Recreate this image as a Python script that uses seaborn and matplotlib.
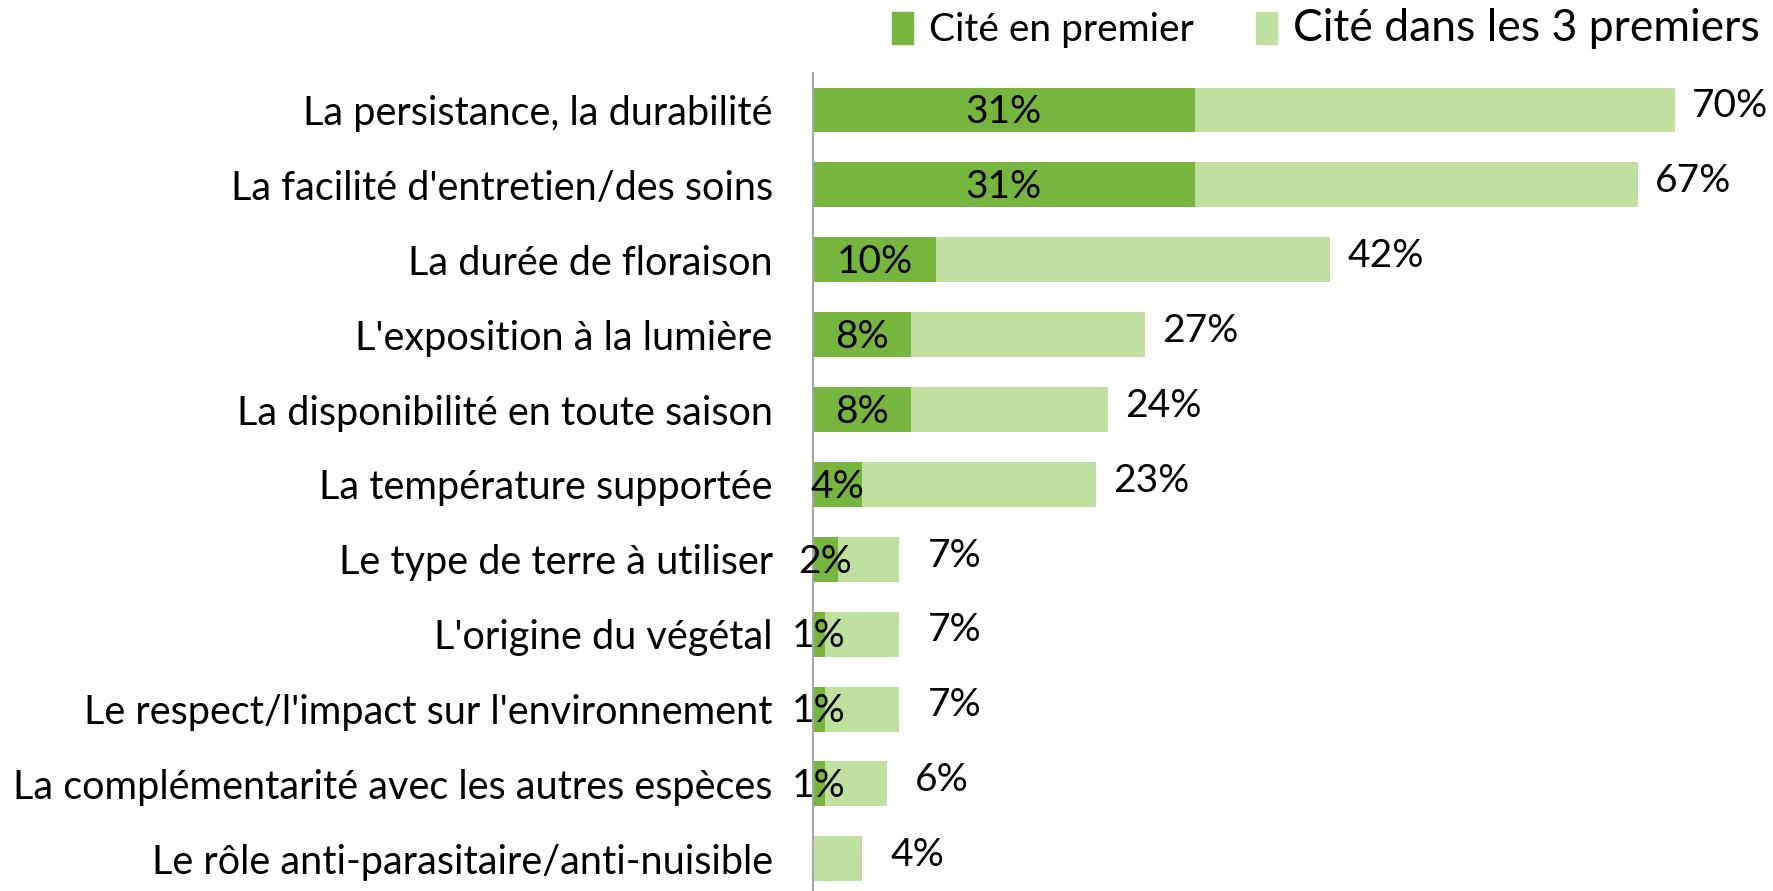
import matplotlib
matplotlib.use("Agg")
import matplotlib.pyplot as plt
from matplotlib.patches import Patch
import pandas as pd
import seaborn as sns

# values (percent)
criteres = [
    "La persistance, la durabilité",
    "La facilité d'entretien/des soins",
    "La durée de floraison",
    "L'exposition à la lumière",
    "La disponibilité en toute saison",
    "La température supportée",
    "Le type de terre à utiliser",
    "L'origine du végétal",
    "Le respect/l'impact sur l'environnement",
    "La complémentarité avec les autres espèces",
    "Le rôle anti-parasitaire/anti-nuisible",
]
cite_premier = [31, 31, 10, 8, 8, 4, 2, 1, 1, 1, 0]
cite_3_premiers = [70, 67, 42, 27, 24, 23, 7, 7, 7, 6, 4]

DARK = "#76B53E"
LIGHT = "#BFE09E"


def main():
    df = pd.DataFrame({
        "critere": criteres,
        "premier": cite_premier,
        "trois": cite_3_premiers,
    })

    sns.set_style("white")
    plt.rcParams["font.family"] = ["Lato", "DejaVu Sans"]
    plt.rcParams["text.color"] = "black"
    plt.rcParams["ytick.color"] = "black"

    fig = plt.figure(figsize=(17.73, 8.91), dpi=100)
    ax = fig.add_axes([813 / 1773, 0, 960 / 1773, 818 / 891])

    sns.barplot(data=df, x="trois", y="critere", color=LIGHT, width=0.6,
                saturation=1, orient="h", linewidth=0, ax=ax)
    sns.barplot(data=df, x="premier", y="critere", color=DARK, width=0.6,
                saturation=1, orient="h", linewidth=0, ax=ax)

    ax.set_xlim(0, 78)
    ax.set_ylim(10.43, -0.494)
    ax.set_xlabel("")
    ax.set_ylabel("")
    ax.set_xticks([])
    ax.tick_params(axis="y", length=0, pad=29, labelsize=28.5,
                   labelcolor="black")
    for side in ["top", "right", "bottom"]:
        ax.spines[side].set_visible(False)
    ax.spines["left"].set_color("#A6A6A6")
    ax.spines["left"].set_linewidth(1.5)

    # labels: first choice centred in the dark bar, top-3 after the bar end
    for i, row in df.iterrows():
        if row["premier"] > 0:
            ax.text(row["premier"] / 2, i + 0.03, f"{row['premier']}%",
                    ha="center", va="center", fontsize=28)
        ax.text(row["trois"] + 4.5, i - 0.05, f"{row['trois']}%",
                ha="center", va="center", fontsize=28)

    handles = [Patch(color=DARK), Patch(color=LIGHT)]
    leg = fig.legend(handles, ["Cité en premier", "Cité dans les 3 premiers"],
                     loc="upper right", bbox_to_anchor=(1.012, 1.03), ncol=2,
                     frameon=False, fontsize=28, handlelength=0.55,
                     handleheight=0.9, handletextpad=0.4, columnspacing=1.6)
    leg.get_texts()[1].set_fontsize(32)

    fig.savefig("out.png", dpi=100)


if __name__ == "__main__":
    main()
